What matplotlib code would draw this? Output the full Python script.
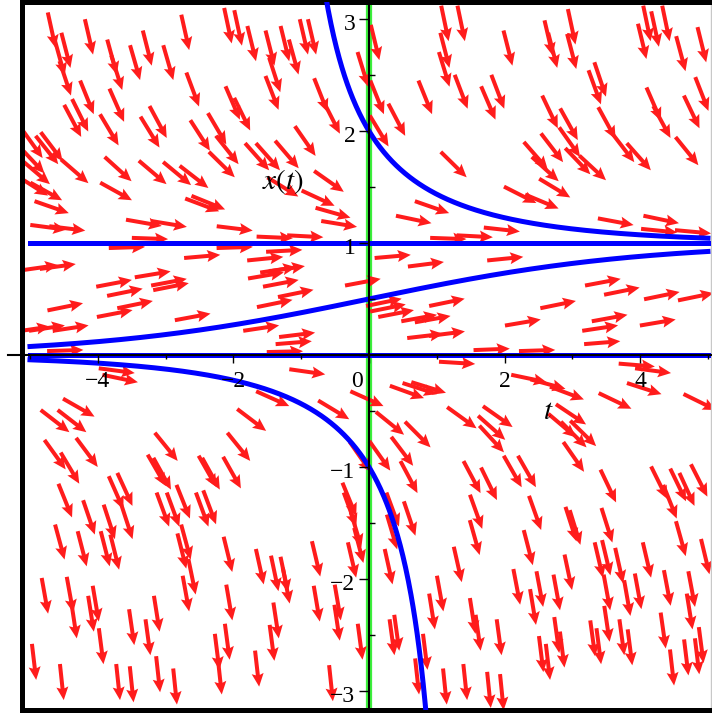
import numpy as np
import matplotlib.pyplot as plt

plt.rcParams['mathtext.fontset'] = 'stix'

# direction field of  x'(t) = RATE * x * (1 - x)
RATE = 0.5
initial_values = [2.0, 1.0, 0.5, 0.0, -1.0]   # x(0) of the blue solution curves
t_start, t_end = -5.0, 5.0

x_tick_labels = [-4, -2, 0, 2, 4]
y_tick_labels = [-3, -2, -1, 1, 2, 3]

# (t, x) centres of the field arrows
arrow_points = [
    # upper left
    (-4.68, 2.90), (-4.47, 2.72), (-4.56, 2.65), (-4.13, 2.84), (-3.79, 2.66), (-3.72, 2.52),
    (-3.45, 2.61), (-3.27, 2.74), (-2.96, 2.61), (-2.71, 2.88), (-2.08, 2.94), (-1.93, 2.92),
    (-4.48, 2.47), (-4.16, 2.30), (-4.37, 2.09), (-4.26, 2.14), (-3.72, 2.23), (-3.83, 2.01),
    (-3.23, 1.99), (-3.11, 2.08), (-2.60, 2.37), (-2.01, 2.25), (-2.49, 1.96), (-2.24, 2.02),
    (-2.09, 1.83), (-2.17, 1.70), (-4.97, 1.89), (-4.75, 1.83), (-4.68, 1.86), (-4.97, 1.74),
    (-4.91, 1.63), (-4.96, 1.51), (-4.76, 1.46), (-4.34, 1.64), (-3.70, 1.66), (-3.73, 1.46),
    (-3.19, 1.63), (-2.83, 1.62), (-2.58, 1.59), (-2.46, 1.34), (-2.37, 1.36), (-4.68, 1.32),
    (-4.73, 1.14), (-4.45, 1.13), (-3.32, 1.18), (-2.95, 1.17), (-1.98, 1.13), (-3.23, 1.04),
    # upper middle
    (-1.73, 2.78), (-1.46, 2.74), (-1.24, 2.78), (-1.11, 2.66), (-0.96, 2.84), (-0.84, 2.84),
    (-1.43, 2.34), (-1.39, 2.50), (-0.71, 2.32), (-0.55, 2.12), (-1.87, 2.15), (-0.94, 1.91),
    (-1.65, 1.77), (-1.49, 1.77), (-1.21, 1.79), (-0.59, 1.55), (-1.27, 1.50), (-0.75, 1.40),
    (-0.53, 1.27), (-0.44, 1.17), (0.09, 2.79), (-0.09, 2.55), (0.12, 2.30), (0.41, 2.10),
    (0.15, 2.00), (1.12, 2.96), (1.36, 2.96), (1.12, 2.72), (1.11, 2.55), (0.83, 2.30),
    (1.36, 2.35), (1.25, 1.70), (0.93, 1.32), (0.66, 1.21), (1.56, 1.06),
    # upper right
    (2.05, 2.74), (2.65, 2.83), (2.71, 2.72), (2.99, 2.93), (2.99, 2.71), (1.76, 2.25),
    (1.90, 2.35), (2.67, 2.17), (2.95, 2.06), (3.33, 2.39), (3.41, 2.46), (3.51, 2.07),
    (3.75, 1.85), (3.98, 1.77), (2.46, 1.78), (2.70, 1.85), (2.96, 1.90), (3.08, 1.73),
    (3.30, 1.67), (2.74, 1.49), (2.60, 1.66), (2.23, 1.43), (2.55, 1.37), (4.03, 2.80),
    (4.10, 2.96), (4.22, 2.91), (4.38, 2.96), (4.60, 2.69), (4.91, 2.77), (4.20, 2.24),
    (4.32, 2.08), (4.76, 2.17), (4.91, 2.33), (4.69, 1.82), (3.64, 1.19), (4.31, 1.21),
    (4.28, 1.11), (1.96, 1.12), (4.78, 1.10),
    # middle left
    (-4.85, 0.78), (-4.59, 0.79), (-3.76, 0.64), (-3.60, 0.56), (-3.19, 0.72), (-2.95, 0.65),
    (-2.92, 0.61), (-4.48, 0.43), (-3.75, 0.37), (-3.45, 0.45), (-2.60, 0.34), (-4.97, 0.23),
    (-4.75, 0.24), (-4.40, 0.24), (-4.48, 0.04), (-2.46, 0.88), (-3.57, 0.96), (-1.98, 0.96),
    (-3.72, -0.14), (-3.67, -0.21), (-4.28, -0.47), (-4.63, -0.59), (-4.38, -0.59),
    (-4.63, -0.89), (-4.16, -0.87), (-4.41, -1.01), (-2.99, -0.82), (-3.13, -1.03),
    (-3.05, -1.06), (-2.38, -1.04), (-2.33, -1.06), (-2.02, -1.05),
    # centre
    (-1.39, 1.05), (-0.94, 1.06), (-1.53, 0.86), (-1.25, 0.93), (-1.34, 0.76), (-1.21, 0.77),
    (-1.52, 0.71), (-1.30, 0.64), (-1.39, 0.46), (-1.08, 0.55), (-1.59, 0.24), (-1.06, 0.18),
    (-1.11, 0.11), (-1.24, 0.03), (0.35, 0.88), (0.84, 0.81), (1.17, 1.04), (-0.09, 0.65),
    (0.22, 0.47), (0.28, 0.42), (0.40, 0.37), (0.74, 0.33), (0.94, 0.32), (1.15, 0.47),
    (0.83, 0.17), (1.15, 0.19), (-0.91, -0.15), (0.56, -0.33), (0.75, -0.30), (0.88, -0.29),
    (1.30, -0.07), (-0.03, -0.39), (-0.52, -0.49), (0.31, -0.61), (0.72, -0.71), (1.37, -0.56),
    (-1.73, -0.58), (-1.92, -0.82), (0.16, -0.90), (0.49, -0.86), (0.59, -1.09), (-1.42, -0.39),
    (-0.13, -0.91), (1.52, -1.09),
    # middle right
    (2.01, 0.86), (3.45, 0.65), (3.73, 0.57), (4.32, 0.53), (4.82, 0.52), (2.27, 0.29),
    (2.79, 0.45), (3.55, 0.33), (3.41, 0.24), (4.26, 0.29), (3.44, 0.11), (1.81, 0.05),
    (2.48, 0.04), (3.95, -0.09), (4.19, -0.14), (2.36, -0.21), (2.64, -0.26), (2.92, -0.34),
    (3.63, -0.41), (4.06, -0.30), (4.88, -0.42), (1.90, -0.55), (1.81, -0.65), (1.81, -0.75),
    (2.98, -0.53), (2.85, -0.63), (3.02, -0.71), (3.16, -0.70), (3.02, -0.91), (2.12, -1.04),
    (2.33, -1.04),
    # lower left
    (-4.48, -1.30), (-3.73, -1.23), (-3.60, -1.20), (-4.13, -1.45), (-3.83, -1.49),
    (-3.57, -1.49), (-4.56, -1.67), (-4.23, -1.73), (-3.89, -1.73), (-3.75, -1.76),
    (-3.04, -1.38), (-2.89, -1.38), (-2.74, -1.31), (-2.46, -1.38), (-2.35, -1.36),
    (-2.70, -1.67), (-2.76, -1.75), (-2.61, -1.98), (-2.70, -2.13), (-2.08, -1.78),
    (-2.06, -2.21), (-2.09, -2.56), (-2.24, -2.65), (-2.20, -2.87), (-4.78, -2.15),
    (-4.41, -2.14), (-4.35, -2.37), (-4.10, -2.31), (-4.03, -2.22), (-3.95, -2.60),
    (-3.50, -2.43), (-3.26, -2.52), (-3.13, -2.31), (-4.94, -2.74), (-4.53, -2.92),
    (-3.70, -2.92), (-3.50, -2.94), (-3.11, -2.85), (-2.86, -2.96),
    # lower middle
    (-0.29, -1.29), (-0.28, -1.38), (-0.19, -1.56), (-0.25, -1.83), (-0.15, -1.70),
    (0.35, -1.38), (0.34, -1.58), (0.60, -1.46), (-1.61, -1.89), (-1.39, -1.95),
    (-1.25, -1.96), (-1.22, -2.06), (-0.78, -1.82), (-0.77, -2.22), (-0.46, -2.21),
    (-0.47, -2.39), (-0.13, -2.56), (-1.37, -2.37), (-1.43, -2.57), (-1.65, -2.80),
    (-0.56, -2.93), (0.29, -1.89), (0.34, -2.52), (0.41, -2.48), (0.83, -2.65), (0.71, -2.87),
    (0.93, -2.29), (1.05, -2.13), (1.12, -2.96), (1.42, -2.92), (1.31, -1.87),
    # lower right
    (1.77, -1.15), (3.53, -1.17), (4.28, -1.14), (4.56, -1.16), (4.69, -1.20), (4.87, -1.12),
    (1.58, -1.40), (1.56, -1.63), (2.45, -1.41), (2.98, -1.51), (3.04, -1.54), (3.51, -1.52),
    (2.35, -1.72), (3.39, -1.83), (3.50, -1.81), (3.51, -2.12), (3.69, -1.88), (3.81, -2.17),
    (3.97, -2.11), (4.10, -1.83), (4.40, -2.08), (4.44, -1.31), (4.60, -1.64), (4.96, -1.80),
    (4.76, -2.09), (4.73, -2.29), (4.90, -2.59), (4.68, -2.70), (4.34, -2.46), (4.47, -2.79),
    (4.84, -2.69), (2.18, -2.07), (2.52, -2.09), (2.77, -2.12), (2.94, -1.94), (2.42, -2.25),
    (1.53, -2.33), (1.61, -2.48), (1.92, -2.52), (2.54, -2.67), (2.64, -2.74), (2.77, -2.50),
    (2.85, -2.63), (3.30, -2.53), (3.39, -2.60), (3.51, -2.40), (3.73, -2.52), (3.85, -2.61),
    (1.77, -2.99), (1.96, -3.01),
]

fig = plt.figure(figsize=(7.12, 7.13), dpi=100)
pos = [0.0302, 0.0049, 0.9684, 0.9916]
ax = fig.add_axes(pos)
xlim = (-5.125, 5.045)
ylim = (-3.165, 3.147)
ax.set_xlim(*xlim)
ax.set_ylim(*ylim)
for side in ['left', 'top', 'bottom']:
    ax.spines[side].set_linewidth(3.6)
    ax.spines[side].set_color('black')
ax.spines['right'].set_linewidth(1)
ax.spines['right'].set_color('#c8c8c8')

# green line at t = 0
ax.axvline(0, color='#3cf03c', lw=4.5, zorder=1)

# arrows: direction of the slope as seen on screen, fixed length
pts = np.array(arrow_points)
at, axv = pts[:, 0], pts[:, 1]
slope = RATE * axv * (1 - axv)
px_t = fig.get_figwidth() * fig.dpi * pos[2] / (xlim[1] - xlim[0])
px_x = fig.get_figheight() * fig.dpi * pos[3] / (ylim[1] - ylim[0])
u = np.full_like(slope, px_t)
v = slope * px_x
n = np.hypot(u, v)
ax.quiver(at, axv, u / n, v / n, angles='uv', pivot='middle',
          scale_units='width', scale=19.0, width=0.0058,
          headwidth=3.0, headlength=3.3, headaxislength=2.9,
          color='#ff1c1c', zorder=2)

# solution curves
t = np.linspace(t_start, t_end, 1001)
for x0 in initial_values:
    den = x0 + (1 - x0) * np.exp(-RATE * t)
    x = np.where(den > 0, x0 / np.where(den > 0, den, 1), np.nan)
    ax.plot(t, x, color='#0000ff', lw=3.6, zorder=3)

# axes through the origin
axl = fig.add_axes(pos, sharex=ax, sharey=ax)
axl.patch.set_visible(False)
axl.spines['top'].set_visible(False)
axl.spines['right'].set_visible(False)
axl.spines['left'].set_position(('data', 0))
axl.spines['bottom'].set_position(('data', 0))
axl.spines['left'].set_linewidth(1.5)
axl.spines['bottom'].set_linewidth(1.5)
axl.set_xticks(np.arange(-4, 5, 2))
axl.set_xticks(np.arange(-5, 6, 2), minor=True)
axl.set_yticks(np.arange(-3, 4, 1))
axl.set_yticks(np.arange(-2.5, 3, 1), minor=True)
axl.tick_params(axis='x', which='major', direction='out', length=6, width=1)
axl.tick_params(axis='x', which='minor', direction='out', length=3, width=1)
axl.tick_params(axis='y', which='major', direction='out', length=7, width=1)
axl.tick_params(axis='y', which='minor', direction='in', length=4, width=1)
axl.tick_params(labelleft=False, labelbottom=False)
axl.plot([-5.33, xlim[0]], [0, 0], color='black', lw=1.5, clip_on=False)

# main frame carries no ticks
ax.tick_params(which='both', left=False, bottom=False, right=False, top=False,
               labelleft=False, labelbottom=False)

font = dict(family='Liberation Serif', size=17)
for v_ in x_tick_labels:
    tx = -0.18 if v_ == 0 else v_
    axl.text(tx, -0.24, str(v_).replace('-', '\u2212'), ha='center', va='center', **font)
for v_ in y_tick_labels:
    axl.text(-0.2, v_ - 0.045, str(v_).replace('-', '\u2212'), ha='right', va='center', **font)

axl.text(-1.27, 1.545, r'$x(t)$', ha='center', va='center', fontsize=21)
axl.text(2.64, -0.5, r'$t$', ha='center', va='center', fontsize=21)

fig.savefig('out.png', dpi=100)
